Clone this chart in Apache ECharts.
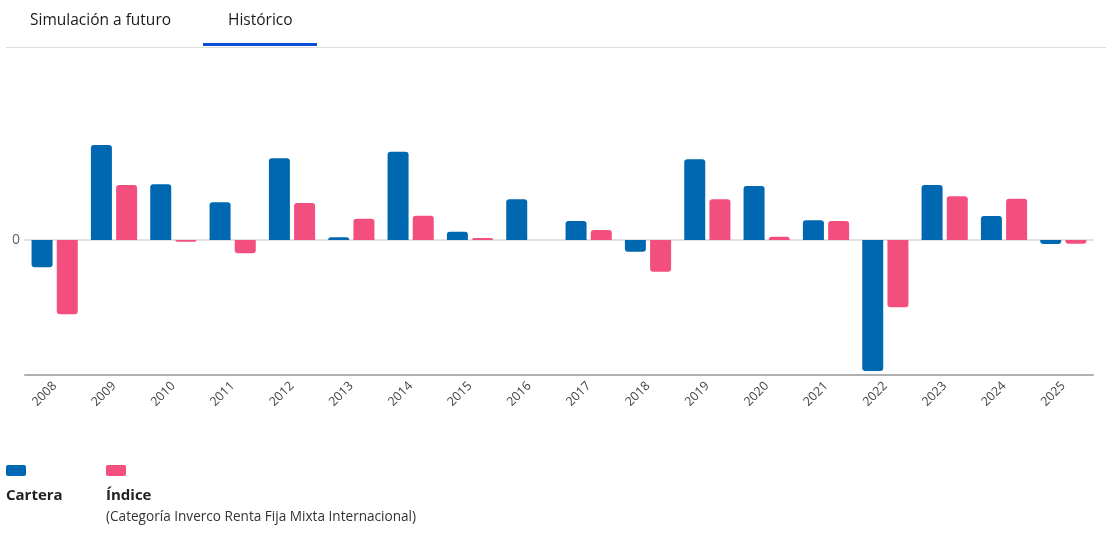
<!DOCTYPE html>
<html>
<head>
    <meta charset="utf-8"/>
    <title>Histórico</title>
    <script type="text/javascript" src="https://cdn.jsdelivr.net/npm/echarts@6/dist/echarts.min.js"></script>
    <style>
        body {
            margin: 0;
            background: #fff;
            font-family: "Open Sans", sans-serif;
            color: #222;
        }

        .page {
            position: relative;
            width: 1106px;
            height: 541px;
            overflow: hidden;
        }

        .tabs {
            position: absolute;
            left: 6px;
            right: 0;
            top: 0;
            height: 47px;
            border-bottom: 1px solid #dcdcdc;
        }

        .tab {
            position: absolute;
            top: 8px;
            font-size: 15.5px;
            color: #1a1a1a;
        }

        .tab-active {
            position: absolute;
            left: 197px;
            top: 43px;
            width: 114px;
            height: 3px;
            background: #0a4fd8;
        }

        #chart-container {
            position: absolute;
            left: 0;
            top: 0;
            width: 1106px;
            height: 541px;
        }

        .legend-item {
            position: absolute;
            top: 465px;
        }

        .legend-box {
            width: 20px;
            height: 11px;
            border-radius: 2px;
        }

        .legend-name {
            font-weight: bold;
            font-size: 15px;
            margin-top: 8px;
        }

        .legend-sub {
            font-size: 13.6px;
            color: #333;
            margin-top: 2px;
        }
    </style>
</head>
<body>
<div class="page">
    <div id="chart-container"></div>
    <div class="tabs">
        <div class="tab" style="left: 24px;">Simulación a futuro</div>
        <div class="tab" style="left: 222px;">Histórico</div>
        <div class="tab-active"></div>
    </div>
    <div class="legend-item" style="left: 6px;">
        <div class="legend-box" style="background: #0067b1;"></div>
        <div class="legend-name">Cartera</div>
    </div>
    <div class="legend-item" style="left: 106px;">
        <div class="legend-box" style="background: #f24f7f;"></div>
        <div class="legend-name">Índice</div>
        <div class="legend-sub">(Categoría Inverco Renta Fija Mixta Internacional)</div>
    </div>
</div>

<script type="text/javascript">
    // rentabilidad anual (%)
    let years = ['2008', '2009', '2010', '2011', '2012', '2013', '2014', '2015', '2016',
        '2017', '2018', '2019', '2020', '2021', '2022', '2023', '2024', '2025'];
    let cartera = [-2.73, 9.5, 5.57, 3.77, 8.17, 0.27, 8.83, 0.83, 4.07,
        1.9, -1.17, 8.07, 5.4, 1.97, -13.1, 5.5, 2.4, -0.4];
    let indice = [-7.43, 5.5, -0.17, -1.33, 3.7, 2.13, 2.43, 0.2, 0,
        1.0, -3.17, 4.07, 0.33, 1.9, -6.73, 4.37, 4.13, -0.37];

    function toBars(values) {
        return values.map(function (v) {
            return {
                value: v,
                itemStyle: {borderRadius: v >= 0 ? [3, 3, 0, 0] : [0, 0, 3, 3]}
            };
        });
    }

    let chart = echarts.init(document.getElementById('chart-container'));
    chart.setOption({
        animation: false,
        grid: {left: 25, right: 13, top: 105, bottom: 166},
        xAxis: [
            {
                type: 'category',
                data: years,
                axisLine: {onZero: false, lineStyle: {color: '#b0b0b0', width: 2}},
                axisTick: {show: false},
                axisLabel: {
                    rotate: 45,
                    margin: 9,
                    color: '#444',
                    fontSize: 12.5,
                    fontFamily: 'Open Sans'
                }
            },
            {
                type: 'category',
                data: years,
                position: 'bottom',
                axisLine: {onZero: true, lineStyle: {color: '#e2e2e2', width: 2}},
                axisTick: {show: false},
                axisLabel: {show: false}
            }
        ],
        yAxis: {
            type: 'value',
            min: -13.5,
            max: 13.5,
            interval: 13.5,
            splitLine: {show: false},
            axisLine: {show: false},
            axisTick: {show: false},
            axisLabel: {
                margin: 5,
                color: '#666',
                fontSize: 14,
                fontFamily: 'Open Sans',
                formatter: function (v) {
                    return v === 0 ? '0' : '';
                }
            }
        },
        series: [
            {
                name: 'Cartera',
                type: 'bar',
                xAxisIndex: 0,
                barWidth: 21,
                barGap: '20%',
                itemStyle: {color: '#0067b1'},
                data: toBars(cartera),
                z: 3
            },
            {
                name: 'Índice',
                type: 'bar',
                xAxisIndex: 0,
                barWidth: 21,
                barGap: '20%',
                itemStyle: {color: '#f24f7f'},
                data: toBars(indice),
                z: 3
            }
        ]
    });
</script>
</body>
</html>
